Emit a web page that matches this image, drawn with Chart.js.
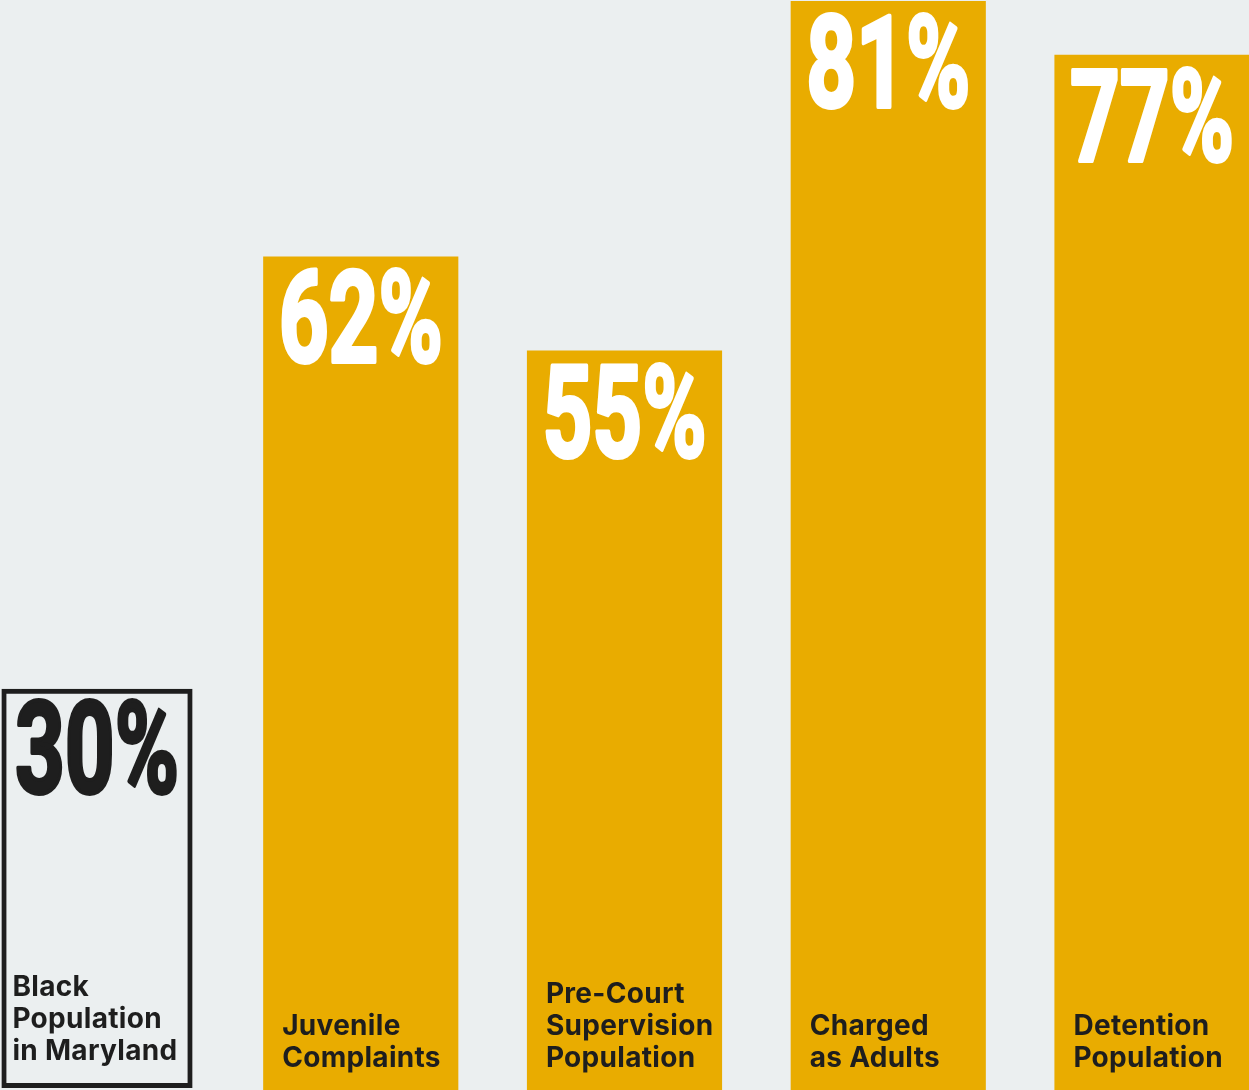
<!DOCTYPE html>
<html>
<head>
<meta charset="utf-8">
<script src="https://cdn.jsdelivr.net/npm/chart.js@4"></script>
<style>
  html, body { margin: 0; padding: 0; background: #ebeff0; }
  canvas { display: block; }
</style>
</head>
<body>
<canvas id="myChart" width="1249" height="1090"></canvas>
<script>
// share of Black youth at each stage, Maryland
const categories = [
    ['Black', 'Population', 'in Maryland'],
    ['Juvenile', 'Complaints'],
    ['Pre-Court', 'Supervision', 'Population'],
    ['Charged', 'as Adults'],
    ['Detention', 'Population']
];
const shares = [30, 62, 55, 81, 77];
const percentLabels = ['30%', '62%', '55%', '81%', '77%'];

const GOLD = '#e9ac00';
const INK = '#1e1e1e';

//the first bar is the baseline, drawn as an outlined box; the rest are filled
const barText = {
    id: 'barText',
    afterDatasetsDraw(chart) {
        const ctx = chart.ctx;
        const bars = chart.getDatasetMeta(0).data;
        bars.forEach((bar, i) => {
            const outlined = i === 0;
            const left = bar.x - bar.width / 2;
            const colour = outlined ? INK : '#ffffff';

            //big condensed percentage, centred near the top of the bar
            ctx.save();
            ctx.translate(bar.x, bar.y + 106);
            ctx.scale(0.68, 1);
            ctx.font = 'bold 128px Roboto';
            ctx.textAlign = 'center';
            ctx.textBaseline = 'alphabetic';
            ctx.fillStyle = colour;
            ctx.strokeStyle = colour;
            ctx.lineWidth = 4;
            ctx.lineJoin = 'round';
            ctx.fillText(percentLabels[i], 0, 0);
            ctx.strokeText(percentLabels[i], 0, 0);
            ctx.restore();

            //category name, stacked lines at the foot of the bar
            ctx.save();
            ctx.font = 'bold 28px Inter';
            ctx.letterSpacing = '0.3px';
            ctx.fillStyle = INK;
            ctx.textAlign = 'left';
            ctx.textBaseline = 'alphabetic';
            const lines = categories[i];
            const lastBaseline = bar.base - (outlined ? 30 : 23);
            lines.forEach((line, j) => {
                const y = lastBaseline - 32 * (lines.length - 1 - j);
                ctx.fillText(line, left + (outlined ? 13 : 19), y);
            });
            ctx.restore();
        });
    }
};

const ctx = document.getElementById('myChart').getContext('2d');
const myChart = new Chart(ctx, {
    type: 'bar',
    data: {
        labels: categories.map(c => c.join(' ')),
        datasets: [{
            data: shares,
            backgroundColor: shares.map((v, i) => i === 0 ? 'rgba(0,0,0,0)' : GOLD),
            borderColor: shares.map((v, i) => i === 0 ? INK : GOLD),
            borderWidth: shares.map((v, i) => i === 0 ? 9 : 0),
            inflateAmount: c => c.dataIndex === 0 ? -2 : 0,
            borderSkipped: false,
            categoryPercentage: 1,
            barPercentage: 0.74,
            clip: false
        }]
    },
    options: {
        responsive: false,
        animation: false,
        devicePixelRatio: 1,
        layout: { padding: { left: 97, right: 97, top: 0, bottom: 0 } },
        plugins: {
            legend: { display: false },
            tooltip: { enabled: false }
        },
        scales: {
            x: { display: false, offset: false, grid: { display: false } },
            y: { display: false, min: 0, max: 81.07, grid: { display: false } }
        }
    },
    plugins: [barText]
});
</script>
</body>
</html>
